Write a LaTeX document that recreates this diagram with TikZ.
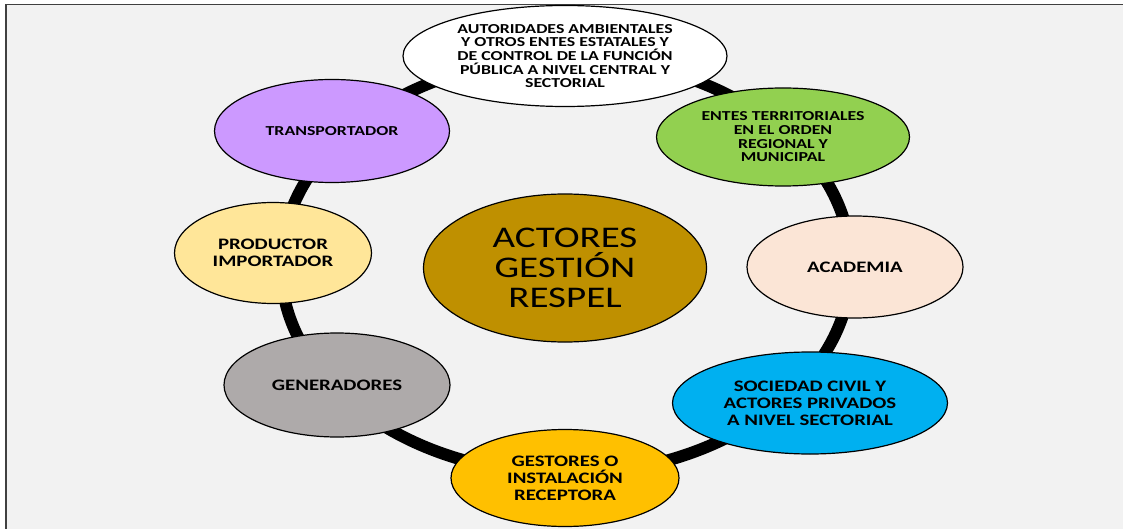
\documentclass[tikz,border=0pt]{standalone}
\usepackage{fontspec}
\setmainfont{Carlito}[FakeStretch=1.3]
\usepackage{tikz}
\usetikzlibrary{shapes.geometric}
\definecolor{paper}{HTML}{F2F2F2}
\definecolor{frame}{HTML}{404040}
\definecolor{green}{HTML}{92D050}
\definecolor{peach}{HTML}{FBE5D6}
\definecolor{sky}{HTML}{00B0F0}
\definecolor{amber}{HTML}{FFC000}
\definecolor{stone}{HTML}{AEAAAA}
\definecolor{cream}{HTML}{FFE699}
\definecolor{lilac}{HTML}{CC99FF}
\definecolor{ochre}{HTML}{BF9000}
\tikzset{
  edge/.style={draw=frame, line width=1.5pt},
  ring/.style={draw=black, line width=12pt},
  actor/.style={ellipse, draw=black, line width=1.2pt, inner sep=0pt, align=center,
    font=\bfseries\fontsize{13.7}{13.7}\selectfont},
  actorbig/.style={actor, font=\bfseries\fontsize{16}{17}\selectfont},
  hub/.style={actor, fill=ochre, font=\fontsize{30}{30}\selectfont}
}
\begin{document}
\begin{tikzpicture}[x=1pt,y=-1pt]
  \useasboundingbox (0,0) rectangle (1123,529);
  \fill[paper] (6,4) rectangle (1123,529);
  \draw[edge] (1123,4.5) -- (6,4.5) -- (6,529);
  % ring behind the actors
  \coordinate (C) at (566,266);
  \draw[ring] (C) ellipse [x radius=285, y radius=208];
  \node[hub, minimum width=283pt, minimum height=148pt] (respel) at (565,268) {ACTORES\\GESTIÓN\\RESPEL};
  \node[actor, fill=white, minimum width=324pt, minimum height=101pt] (auth) at (565,56)
    {AUTORIDADES AMBIENTALES\\Y OTROS ENTES ESTATALES Y\\DE CONTROL DE LA FUNCIÓN\\PÚBLICA A NIVEL CENTRAL Y\\SECTORIAL};
  \node[actor, fill=green, minimum width=253pt, minimum height=98pt] (entes) at (783,137)
    {ENTES TERRITORIALES\\EN EL ORDEN\\REGIONAL Y\\MUNICIPAL};
  \node[actorbig, fill=peach, minimum width=216pt, minimum height=102pt] (academia) at (855,267) {ACADEMIA};
  \node[actorbig, fill=sky, minimum width=275pt, minimum height=102pt] (sociedad) at (810,403)
    {SOCIEDAD CIVIL Y\\ACTORES PRIVADOS\\A NIVEL SECTORIAL};
  \node[actorbig, fill=amber, minimum width=228pt, minimum height=97pt] (gestores) at (565,478)
    {GESTORES O\\INSTALACIÓN\\RECEPTORA};
  \node[actorbig, fill=stone, minimum width=226pt, minimum height=104pt] (generadores) at (337,385) {GENERADORES};
  \node[actorbig, fill=cream, minimum width=197pt, minimum height=101pt] (productor) at (273,253)
    {PRODUCTOR\\IMPORTADOR};
  \node[actor, fill=lilac, minimum width=235pt, minimum height=103pt] (transportador) at (332,131) {TRANSPORTADOR};
\end{tikzpicture}
\end{document}
